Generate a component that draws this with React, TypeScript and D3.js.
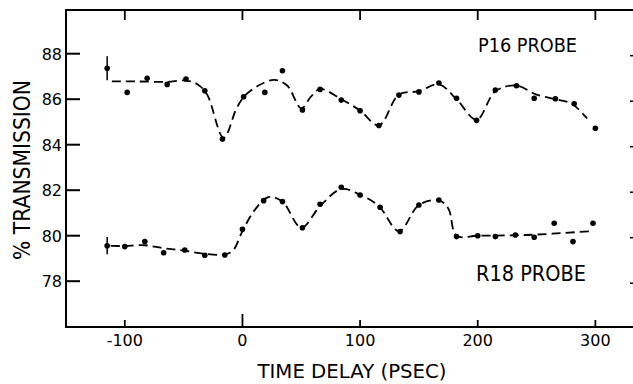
import React from "react";
import * as d3 from "d3";

// measured points, time delay (psec) vs % transmission
const p16Time = [-115, -98, -81, -64, -48, -32, -17, 1, 19, 34, 51, 66, 84, 100, 116, 133, 150, 167, 182, 199, 215, 233, 248, 266, 282, 300];
const p16Value = [87.36, 86.3, 86.92, 86.65, 86.89, 86.37, 84.25, 86.11, 86.3, 87.25, 85.53, 86.43, 85.96, 85.49, 84.84, 86.18, 86.32, 86.71, 86.04, 85.07, 86.4, 86.59, 86.04, 86.02, 85.8, 84.72];
const r18Time = [-115, -100, -83, -67, -49, -32, -15, 0, 18, 34, 51, 66, 84, 100, 117, 134, 150, 167, 182, 200, 215, 232, 248, 265, 281, 298];
const r18Value = [79.56, 79.52, 79.74, 79.25, 79.37, 79.14, 79.15, 80.28, 81.54, 81.5, 80.35, 81.38, 82.13, 81.79, 81.25, 80.18, 81.35, 81.57, 79.96, 80.0, 79.96, 80.03, 79.93, 80.55, 79.74, 80.55];

// error bar on the first point of each set
const p16Err = 0.53;
const r18Err = 0.38;

// hand-drawn fit curves
const p16FitTime = [-111, -90, -65, -48, -38, -30, -16, -5, 2, 12, 27, 38, 50, 58, 66, 84, 100, 116, 133, 150, 167, 182, 199, 215, 233, 250, 266, 280, 293];
const p16FitValue = [86.78, 86.78, 86.76, 86.82, 86.65, 86.2, 84.3, 85.6, 86.15, 86.55, 86.85, 86.6, 85.6, 86.1, 86.45, 86.0, 85.5, 84.85, 86.2, 86.35, 86.65, 86.0, 85.1, 86.35, 86.6, 86.2, 86.0, 85.8, 85.15];
const r18FitTime = [-112, -100, -83, -67, -50, -32, -15, -8, 0, 10, 22, 34, 50, 66, 84, 100, 116, 133, 150, 167, 175, 182, 200, 232, 250, 297];
const r18FitValue = [79.55, 79.55, 79.58, 79.45, 79.35, 79.2, 79.18, 79.35, 80.2, 81.1, 81.7, 81.5, 80.35, 81.3, 82.05, 81.8, 81.3, 80.2, 81.35, 81.55, 81.2, 80.0, 80.0, 80.02, 80.05, 80.2];

const xTicks = [-100, 0, 100, 200, 300];
const yTicks = [78, 80, 82, 84, 86, 88];

const W = 633;
const H = 384;
const left = 66;
const top = 10;
const bottom = 327;

const font = "'DejaVu Sans', sans-serif";

export default function App() {
  const x = d3.scaleLinear().domain([-150, 332]).range([left, W]);
  const y = d3.scaleLinear().domain([76, 90]).range([326.7, 8.2]);

  const line = d3
    .line<[number, number]>()
    .x((d) => x(d[0]))
    .y((d) => y(d[1]))
    .curve(d3.curveCatmullRom.alpha(0.5));

  const p16Fit = line(p16FitTime.map((t, i) => [t, p16FitValue[i]]) as [number, number][]);
  const r18Fit = line(r18FitTime.map((t, i) => [t, r18FitValue[i]]) as [number, number][]);

  const dots = (ts: number[], vs: number[]) =>
    ts.map((t, i) => <circle key={i} cx={x(t)} cy={y(vs[i])} r={2.8} fill="#000" />);

  return (
    <svg width={W} height={H} style={{ position: "absolute", left: 0, top: 0, background: "#fff" }}>
      {/* frame */}
      <g stroke="#000" strokeWidth={2} fill="none">
        <line x1={left} y1={top} x2={left} y2={bottom + 1} />
        <line x1={left - 1} y1={bottom} x2={W} y2={bottom} />
        <line x1={left - 1} y1={top} x2={W} y2={top} />
      </g>

      {/* y ticks */}
      {yTicks.map((v) => (
        <g key={v}>
          <line x1={left} x2={left + 14} y1={y(v)} y2={y(v)} stroke="#000" strokeWidth={2} />
          <line x1={W - 3} x2={W} y1={y(v) + 2} y2={y(v) + 2} stroke="#000" strokeWidth={1.5} />
          <text x={62} y={y(v) + 6} textAnchor="end" fontFamily={font} fontSize={16}>
            {v}
          </text>
        </g>
      ))}

      {/* x ticks */}
      {xTicks.map((t) => (
        <g key={t}>
          <line x1={x(t)} x2={x(t)} y1={top} y2={top + 10} stroke="#000" strokeWidth={1.8} />
          <line x1={x(t)} x2={x(t)} y1={bottom} y2={bottom - (t === 0 ? 13 : 7)} stroke="#000" strokeWidth={1.8} />
          <text x={x(t)} y={346} textAnchor="middle" fontFamily={font} fontSize={16}>
            {t < 0 ? "-" + Math.abs(t) : t}
          </text>
        </g>
      ))}

      {/* fit curves */}
      <path d={p16Fit ?? ""} fill="none" stroke="#000" strokeWidth={1.8} strokeDasharray="9,5" />
      <path d={r18Fit ?? ""} fill="none" stroke="#000" strokeWidth={1.8} strokeDasharray="9,5" />

      {/* error bars */}
      <line x1={x(p16Time[0])} x2={x(p16Time[0])} y1={y(p16Value[0] + p16Err)} y2={y(p16Value[0] - p16Err)} stroke="#000" strokeWidth={1.5} />
      <line x1={x(r18Time[0])} x2={x(r18Time[0])} y1={y(r18Value[0] + r18Err)} y2={y(r18Value[0] - r18Err)} stroke="#000" strokeWidth={1.5} />

      {dots(p16Time, p16Value)}
      {dots(r18Time, r18Value)}

      {/* labels */}
      <text x={478} y={52} fontFamily={font} fontSize={20} textLength={99} lengthAdjust="spacingAndGlyphs">
        P16 PROBE
      </text>
      <text x={476} y={281} fontFamily={font} fontSize={21} textLength={110} lengthAdjust="spacingAndGlyphs">
        R18 PROBE
      </text>

      <text x={352} y={378} textAnchor="middle" fontFamily={font} fontSize={20} textLength={189} lengthAdjust="spacingAndGlyphs">
        TIME DELAY (PSEC)
      </text>
      <text
        transform="translate(30,170) rotate(-90)"
        textAnchor="middle"
        fontFamily={font}
        fontSize={23}
        textLength={180}
        lengthAdjust="spacingAndGlyphs"
      >
        % TRANSMISSION
      </text>
    </svg>
  );
}
